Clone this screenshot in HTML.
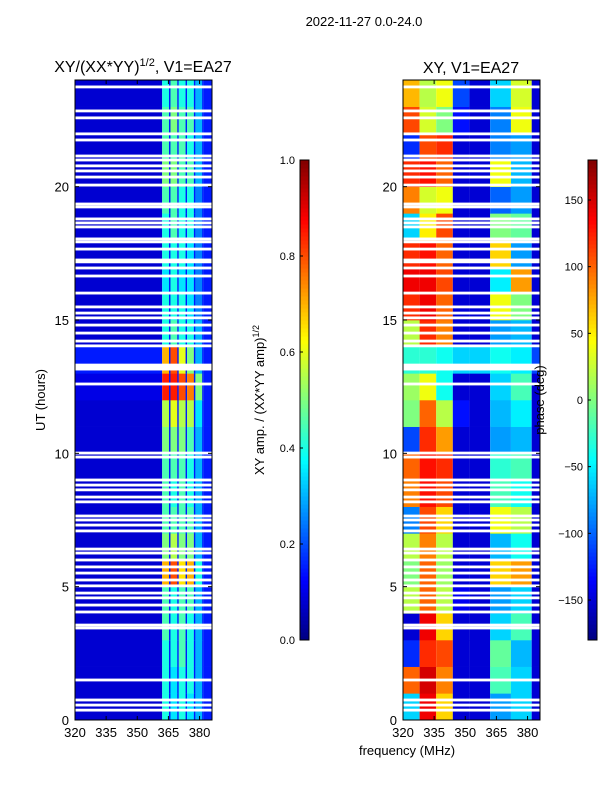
<!DOCTYPE html>
<html><head><meta charset="utf-8"><style>
body{margin:0;background:#fff;}
svg{font-family:"Liberation Sans",sans-serif;}
</style></head><body>
<svg id="fig" width="600" height="800">
<text x="364" y="26" font-size="13" text-anchor="middle">2022-11-27 0.0-24.0</text>
<text x="143" y="72" font-size="16" text-anchor="middle">XY/(XX*YY)<tspan font-size="11" dy="-6">1/2</tspan><tspan dy="6">, V1=EA27</tspan></text>
<text x="471" y="73" font-size="16" text-anchor="middle">XY, V1=EA27</text>
<text transform="translate(45,400) rotate(-90)" font-size="13" text-anchor="middle">UT (hours)</text>
<text x="407" y="755" font-size="13" text-anchor="middle">frequency (MHz)</text>
<text transform="translate(264,400) rotate(-90)" font-size="13" text-anchor="middle">XY amp. / (XX*YY amp)<tspan font-size="9" dy="-5">1/2</tspan></text>
<g id="L"></g>
<g id="R"></g>
<g id="C"></g>
<text transform="translate(544,400) rotate(-90)" font-size="13" text-anchor="middle">phase (deg)</text>
</svg>
<script>
const hours=[0,1,2,3,4,5,6,7,8,9,10,11,12,13,14,15,16,17,18,19,20,21,22,23];
const leftEdges=[320,362,366,370,374,378,382,386];
const leftBg=[0.08,0.08,0.08,0.08,0.08,0.08,0.08,0.08,0.08,0.08,0.08,0.08,0.1,0.15,0.08,0.08,0.08,0.08,0.08,0.08,0.08,0.08,0.08,0.08];
const leftBand=[
[0.4,0.35,0.4,0.35,0.3],[0.4,0.35,0.4,0.4,0.3],[0.4,0.4,0.45,0.4,0.3],[0.45,0.4,0.45,0.4,0.3],
[0.45,0.4,0.45,0.45,0.3],[0.7,0.8,0.65,0.7,0.4],[0.5,0.55,0.5,0.5,0.3],[0.45,0.45,0.45,0.45,0.3],
[0.45,0.4,0.45,0.4,0.3],[0.45,0.45,0.45,0.4,0.3],[0.5,0.5,0.5,0.45,0.3],[0.55,0.6,0.55,0.55,0.35],
[0.85,0.85,0.8,0.75,0.5],[0.7,0.8,0.6,0.5,0.3],[0.4,0.45,0.4,0.4,0.3],[0.4,0.4,0.4,0.35,0.25],
[0.35,0.4,0.35,0.35,0.25],[0.4,0.4,0.4,0.35,0.25],[0.4,0.45,0.4,0.4,0.25],[0.45,0.45,0.4,0.4,0.25],
[0.5,0.5,0.45,0.45,0.3],[0.45,0.45,0.45,0.4,0.3],[0.45,0.5,0.45,0.45,0.3],[0.4,0.45,0.4,0.4,0.3]];
const leftEdgeVal=0.15;
const rightEdges=[320,328,336,344,352,362,372,382,386];
const phase=[
[-60,140,60,-150,-150,-80,-60,-150],[100,150,90,-150,-150,-20,-60,-150],[-120,120,110,-150,-150,-10,-70,-150],
[-150,140,60,-150,-150,-60,-20,-150],[20,100,20,-140,-150,-80,-60,-150],[0,100,10,-150,-150,60,80,-150],
[20,90,20,-150,-150,-70,-40,-150],[-90,110,60,-150,-150,40,20,-150],[90,130,110,-150,-150,-20,-40,-150],
[100,130,120,-150,-150,-30,-20,-150],[-110,120,80,-150,-150,-80,-70,-150],[0,100,20,-130,-150,-70,-50,-150],
[10,40,-40,-150,-150,-60,-20,-150],[-30,-30,-40,-60,-60,-40,-50,-110],[20,120,90,-150,-150,-80,-70,-150],
[120,140,100,-150,-150,40,0,-150],[140,140,110,-150,-150,-50,80,-150],[120,130,100,-150,-150,60,-80,-150],
[-60,50,110,-150,-150,0,-10,-150],[90,30,40,-150,-150,-100,-80,-150],[120,130,100,-150,-150,40,-70,-150],
[-120,110,120,-150,-150,-90,-80,-150],[110,30,0,-130,-150,-90,40,-150],[70,20,40,-110,-150,-60,30,-150]];
const gapHours=[23.74,22.84,22.58,21.98,21.75,21.15,21.0,20.78,20.59,20.36,20.06,19.35,19.24,18.79,18.64,18.49,18.04,17.93,17.66,17.25,17.18,16.95,16.65,16.01,15.49,15.26,15.08,14.81,14.51,14.21,14.03,13.31,13.24,13.16,12.6,10.01,9.86,9.0,8.81,8.63,8.36,8.18,7.65,7.5,7.31,7.09,6.41,6.26,6.0,5.74,5.51,5.25,5.03,4.76,4.58,4.31,4.05,3.56,3.45,1.5,0.75,0.56,0.37];
const xTicks=[320,335,350,365,380];
const yTicks=[0,5,10,15,20];
const ampTicks=[0,0.2,0.4,0.6,0.8,1.0];
const phaseTicks=[-150,-100,-50,0,50,100,150];

const NS='http://www.w3.org/2000/svg';
function jet(t){t=Math.max(0,Math.min(1,t));
 const c=x=>Math.round(255*Math.max(0,Math.min(1,x)));
 return `rgb(${c(1.5-Math.abs(4*t-3))},${c(1.5-Math.abs(4*t-2))},${c(1.5-Math.abs(4*t-1))})`;}
function el(tag,a,p){const e=document.createElementNS(NS,tag);for(const k in a)e.setAttribute(k,a[k]);p.appendChild(e);return e;}
const Y0=720,Y1=80;
const yS=h=>Y0-(h/24)*(Y0-Y1);
function panel(g,x0,x1){return f=>x0+(f-320)*(x1-x0)/66;}
const xL=panel(0,75,212), xR=panel(0,403,540);
const L=document.getElementById('L'),R=document.getElementById('R'),C=document.getElementById('C');

hours.forEach((h,i)=>{
 const y=yS(h+1),hh=yS(h)-yS(h+1);
 for(let j=0;j<leftEdges.length-1;j++){
  const v=j==0?leftBg[i]:(j==leftEdges.length-2?leftEdgeVal:leftBand[i][j-1]);
  const inBand=j>0&&j<leftEdges.length-2;
  const r=el('rect',{x:xL(leftEdges[j]),y:y,width:xL(leftEdges[j+1])-xL(leftEdges[j]),height:hh+0.3,fill:jet(v)},L);
  
  
  if(inBand){const s=el('rect',{x:xL(leftEdges[j+1])-1.5,y:y,width:1.5,height:hh+0.3,fill:jet(0.15)},L);
   
   }
 }
 for(let j=0;j<rightEdges.length-1;j++){
  const r=el('rect',{x:xR(rightEdges[j]),y:y,width:xR(rightEdges[j+1])-xR(rightEdges[j]),height:hh+0.3,fill:jet((phase[i][j]+180)/360)},R);
  
  
 }
});
[[L,xL],[R,xR]].forEach(([g,xs])=>{
 gapHours.forEach(gh=>{const r=el('rect',{x:xs(320),y:yS(gh)-1.4,width:xs(386)-xs(320),height:2.8,fill:'#fff'},g);
  
  });
 const fr=el('rect',{x:xs(320),y:Y1,width:xs(386)-xs(320),height:Y0-Y1,fill:'none',stroke:'#000','stroke-width':1},g);
 
 
 xTicks.forEach(t=>{const x=xs(t);
  el('line',{x1:x,x2:x,y1:Y0,y2:Y0-4,stroke:'#000'},g);el('line',{x1:x,x2:x,y1:Y1,y2:Y1+4,stroke:'#000'},g);
  const tx=el('text',{x:x,y:Y0+17,'font-size':13,'text-anchor':'middle'},g);tx.textContent=t;
  
  });
 yTicks.forEach(t=>{const y=yS(t);
  el('line',{x1:xs(320),x2:xs(320)+4,y1:y,y2:y,stroke:'#000'},g);el('line',{x1:xs(386),x2:xs(386)-4,y1:y,y2:y,stroke:'#000'},g);
  const tx=el('text',{x:xs(320)-6,y:y+5,'font-size':13,'text-anchor':'end'},g);tx.textContent=t;
  
  });
});
function cbar(x,ticks,lo,hi,fmt){
 const N=120,top=160,bot=640;
 for(let k=0;k<N;k++){el('rect',{x:x,y:bot-(k+1)*(bot-top)/N,width:9,height:(bot-top)/N+0.5,fill:jet((k+0.5)/N)},C);}
 el('rect',{x:x,y:top,width:9,height:bot-top,fill:'none',stroke:'#000'},C);
 ticks.forEach(t=>{const y=bot-(t-lo)/(hi-lo)*(bot-top);
  el('line',{x1:x,x2:x+3,y1:y,y2:y,stroke:'#000'},C);
  const tx=el('text',{x:x-5,y:y+4,'font-size':11,'text-anchor':'end'},C);tx.textContent=fmt(t);
  
  });
}
cbar(300,ampTicks,0,1,t=>t.toFixed(1));
cbar(588,phaseTicks,-180,180,t=>String(t).replace('-','\u2212'));
</script>
</body></html>
